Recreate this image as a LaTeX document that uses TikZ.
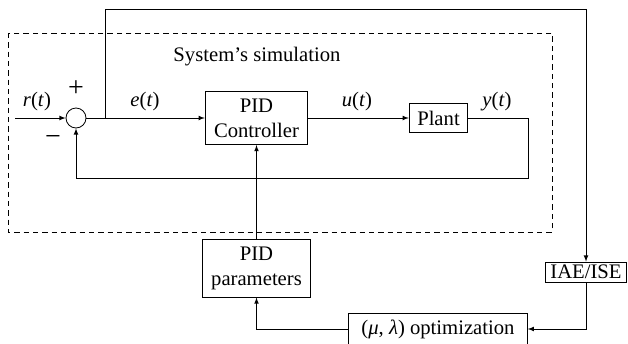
\documentclass[tikz,border=0pt]{standalone}
\usepackage{fontspec}
\setmainfont{Liberation Serif}
\usetikzlibrary{positioning}

\begin{document}
\begin{tikzpicture}[
        x = 0.75pt, y = 0.75pt,
        on grid,
        -latex,
        line width = 0.6pt,
        every node/.style = {font = \fontsize{15.5}{19}\selectfont},
        block/.style = {rectangle, draw, align = center, inner sep = 1pt},
        sum/.style = {circle, draw, minimum size = 15pt, inner sep = 0pt},
        sig/.style = {draw = none, fill = none},
        sign/.style = {draw = none, font = \fontsize{21}{21}\selectfont}]

      \useasboundingbox (0,0) rectangle (628,-343);

      %simulation frame
      \draw[dash pattern = on 4pt off 3pt, -] (8,-33) rectangle (552,-232);
      \node[sig] (SimLabel) at (257,-57) {System's simulation};

      %loop
      \node[sum] (Sum) at (76,-118) {};
      \node[block, minimum width = 77pt, minimum height = 40pt] (Controller) [right = 180.5 of Sum] {PID\\Controller};
      \node[block, minimum width = 44pt, minimum height = 22pt] (Plant) [right = 182 of Controller] {Plant};
      \coordinate (Input) at (15,-118);
      \coordinate (Branch) at (105,-118);
      \coordinate (PlantOut) at (528,-118);

      %outer blocks
      \node[block, minimum width = 81pt, minimum height = 43pt] (Params) [below = 150.5 of Controller] {PID\\parameters};
      \node[block, minimum width = 134pt, minimum height = 24pt] (Optim) [below right = 60.5 and 181.5 of Params] {(\textit{μ}, \textit{λ}) optimization};
      \node[block, minimum width = 61pt, minimum height = 15pt] (Cost) at (586,-272) {IAE/ISE};

      %signal labels
      \node[sig] (rLabel) at (37,-102) {\textit{r}(\textit{t})};
      \node[sign] (PlusLabel) at (76,-89) {+};
      \node[sign] (MinusLabel) at (53,-140) {−};
      \node[sig] (eLabel) at (145,-102) {\textit{e}(\textit{t})};
      \node[sig] (uLabel) at (357,-102) {\textit{u}(\textit{t})};
      \node[sig] (yLabel) at (497,-102) {\textit{y}(\textit{t})};

      \begin{scope}
        % forward path
        \path
        (Input) edge (Sum)
        (Sum) edge (Controller)
        (Controller) edge (Plant)
        (Params) edge (Controller)
        ;
        \draw[-] (Plant) -- (PlantOut);
        \draw (PlantOut) -- (PlantOut |- 0,-178) -- (Sum |- 0,-178) -- (Sum);
      \end{scope}

      \begin{scope}
        % optimisation loop
        \draw (Branch) -- (105,-9) -- (Cost.north |- 0,-9) -- (Cost.north);
        \draw (Cost.south) |- (Optim);
        \draw (Optim) -| (Params);
      \end{scope}
    \end{tikzpicture}
\end{document}
